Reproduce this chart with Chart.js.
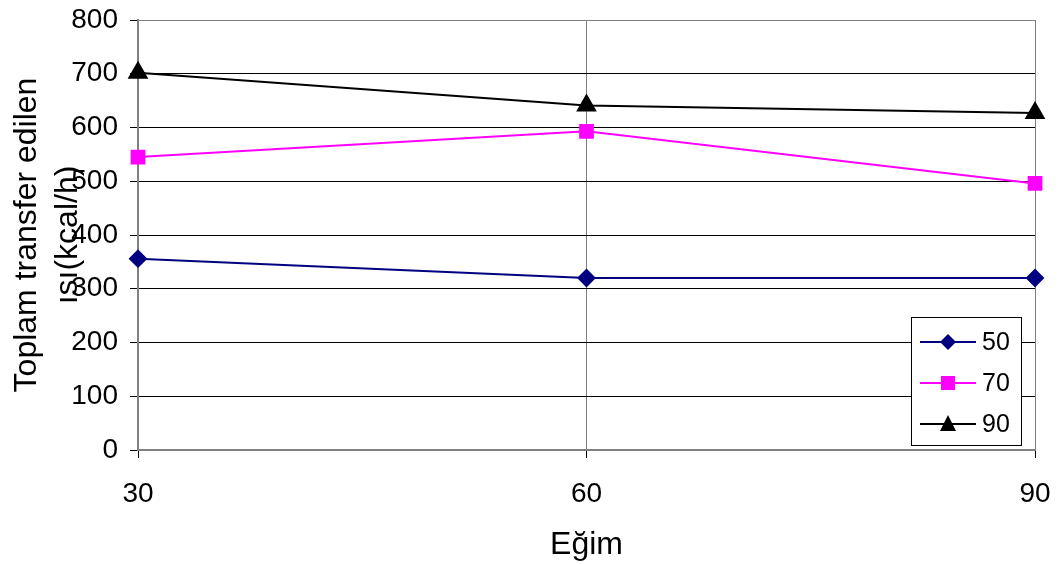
<!DOCTYPE html>
<html>
<head>
<meta charset="utf-8">
<script src="https://cdn.jsdelivr.net/npm/chart.js@4/dist/chart.umd.min.js"></script>
<style>
  html, body { margin: 0; padding: 0; background: #fff; }
  #wrap { width: 1062px; height: 564px; }
</style>
</head>
<body>
<div id="wrap"><canvas id="graph"></canvas></div>
<script>
// Eğim (x) vs toplam transfer edilen ısı
const egim = ["30", "60", "90"];
const seriesNames = ["50", "70", "90"];
const values50 = [356, 320, 320];
const values70 = [545, 593, 496];
const values90 = [702, 641, 627];
const yTicks = [0, 100, 200, 300, 400, 500, 600, 700, 800];

const FONT = "'Liberation Sans', Arial, sans-serif";

// legend + axis titles, Excel style
const excelBits = {
  id: 'excelBits',
  afterDraw(chart) {
    const ctx = chart.ctx;
    const area = chart.chartArea;
    ctx.save();
    ctx.fillStyle = '#000';
    ctx.textAlign = 'center';
    ctx.textBaseline = 'middle';

    // x title
    ctx.font = '32px ' + FONT;
    ctx.fillText('Eğim', (area.left + area.right) / 2, 545);

    // y title, two lines
    const cy = (area.top + area.bottom) / 2;
    ctx.save();
    ctx.translate(27, cy);
    ctx.rotate(-Math.PI / 2);
    ctx.fillText('Toplam transfer edilen', 0, 0);
    ctx.restore();
    ctx.save();
    ctx.translate(68, cy);
    ctx.rotate(-Math.PI / 2);
    ctx.fillText('ısı(kcal/h)', 0, 0);
    ctx.restore();

    // legend box
    const bx = 911, by = 317, bw = 110, bh = 128;
    ctx.fillStyle = '#fff';
    ctx.fillRect(bx, by, bw, bh);
    ctx.strokeStyle = '#000';
    ctx.lineWidth = 1;
    ctx.strokeRect(bx + 0.5, by + 0.5, bw, bh);

    chart.data.datasets.forEach((ds, i) => {
      const y = by + 25 + i * 41;
      ctx.strokeStyle = ds.borderColor;
      ctx.lineWidth = 2;
      ctx.beginPath();
      ctx.moveTo(920, y);
      ctx.lineTo(976, y);
      ctx.stroke();
      ctx.fillStyle = ds.pointBackgroundColor;
      const mx = 948;
      ctx.beginPath();
      if (ds.pointStyle === 'rectRot') {
        ctx.moveTo(mx, y - 8); ctx.lineTo(mx + 8, y); ctx.lineTo(mx, y + 8); ctx.lineTo(mx - 8, y);
      } else if (ds.pointStyle === 'rect') {
        ctx.rect(mx - 7, y - 7, 14, 14);
      } else {
        ctx.moveTo(mx, y - 9); ctx.lineTo(mx + 8, y + 7); ctx.lineTo(mx - 8, y + 7);
      }
      ctx.closePath();
      ctx.fill();
      ctx.fillStyle = '#000';
      ctx.textAlign = 'left';
      ctx.font = '25px ' + FONT;
      ctx.fillText(ds.label, 982, y + 1);
    });
    ctx.restore();
  }
};

new Chart("graph", {
  type: "line",
  data: {
    labels: egim,
    datasets: [
      {
        label: seriesNames[0], data: values50,
        borderColor: "#000080", pointBackgroundColor: "#000080", pointBorderColor: "#000080",
        pointStyle: "rectRot", pointRadius: 8, borderWidth: 2
      },
      {
        label: seriesNames[1], data: values70,
        borderColor: "#ff00ff", pointBackgroundColor: "#ff00ff", pointBorderColor: "#ff00ff",
        pointStyle: "rect", pointRadius: 9, borderWidth: 2
      },
      {
        label: seriesNames[2], data: values90,
        borderColor: "#000000", pointBackgroundColor: "#000000", pointBorderColor: "#000000",
        pointStyle: "triangle", pointRadius: 10, borderWidth: 2
      }
    ]
  },
  options: {
    responsive: true,
    maintainAspectRatio: false,
    animation: false,
    layout: { padding: { left: 0, right: 27, top: 20, bottom: 0 } },
    plugins: {
      legend: { display: false },
      tooltip: { enabled: false }
    },
    scales: {
      x: {
        type: "category",
        offset: false,
        afterFit(scale) {
          scale.height = 114;
          scale.paddingLeft = 0;
          scale.paddingRight = 0;
        },
        grid: { color: "#808080", lineWidth: 1, tickLength: 8, tickColor: "#000" },
        border: { color: "#808080", width: 2 },
        ticks: { color: "#000", font: { family: FONT, size: 28 }, padding: 19, maxRotation: 0 }
      },
      y: {
        min: 0,
        max: 800,
        afterFit(scale) {
          scale.width = 138;
          scale.paddingTop = 0;
          scale.paddingBottom = 0;
        },
        afterBuildTicks(scale) { scale.ticks = yTicks.map(v => ({ value: v })); },
        grid: {
          color: ctx => (ctx.tick && ctx.tick.value === 800) ? "#808080" : "#000",
          lineWidth: 1, tickLength: 8, tickColor: "#000"
        },
        border: { color: "#808080", width: 2 },
        ticks: { color: "#000", font: { family: FONT, size: 28 }, padding: 12 }
      }
    }
  },
  plugins: [excelBits]
});
</script>
</body>
</html>
